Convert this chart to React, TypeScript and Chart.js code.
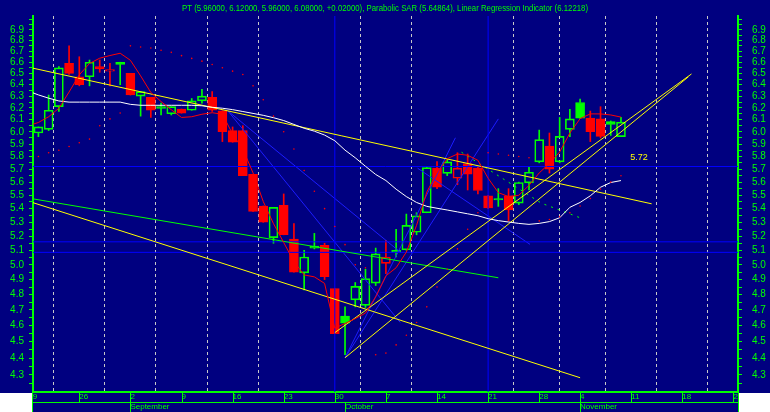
import React, { useEffect, useRef } from "react";
import { Chart, registerables } from "chart.js";

Chart.register(...registerables);

// ---------------- data ----------------
const dayTickValues = [0, 5, 10, 15, 20, 25, 30, 35, 40, 45, 50, 54, 59, 64, 69];
const dayTickLabels = ["19", "26", "2", "9", "16", "23", "30", "7", "14", "21", "28", "4", "11", "18", "25"];
const monthTickValues = [10, 31, 54];
const monthTickLabels = ["September", "October", "November"];

const candleDays = [1, 2, 3, 4, 5, 6, 7, 8, 9, 10, 11, 12, 13, 14, 15, 16, 17, 18, 19, 20, 21, 22, 23, 24, 25, 26, 27, 28, 29, 30, 31, 32, 33, 34, 35, 36, 37, 38, 39, 40, 41, 42, 43, 44, 45, 46, 47, 48, 49, 50, 51, 52, 53, 54, 55, 56, 57, 58];
const opens = [5.99, 6.02, 6.21, 6.59, 6.47, 6.47, 6.56, 6.52, 6.6, 6.5, 6.3, 6.29, 6.21, 6.15, 6.19, 6.18, 6.26, 6.29, 6.175, 6.01, 6.01, 5.66, 5.42, 5.19, 5.425, 5.18, 4.945, 5.13, 5.135, 4.84, 4.66, 4.765, 4.73, 4.876, 5.01, 5.1, 5.104, 5.228, 5.37, 5.708, 5.667, 5.63, 5.745, 5.708, 5.496, 5.475, 5.496, 5.441, 5.594, 5.758, 5.884, 5.758, 6.02, 6.246, 6.114, 6.107, 6.084, 5.96];
const highs = [6.04, 6.31, 6.56, 6.75, 6.65, 6.62, 6.62, 6.59, 6.6, 6.5, 6.34, 6.29, 6.24, 6.21, 6.19, 6.28, 6.36, 6.34, 6.175, 6.04, 6.05, 5.66, 5.42, 5.41, 5.51, 5.29, 5.1, 5.22, 5.15, 4.84, 4.72, 4.88, 4.97, 5.116, 5.17, 5.25, 5.36, 5.37, 5.72, 5.76, 5.78, 5.83, 5.82, 5.72, 5.5, 5.55, 5.55, 5.6, 5.72, 6.014, 5.99, 6.119, 6.187, 6.276, 6.173, 6.21, 6.09, 6.12];
const lows = [5.96, 6.01, 6.17, 6.49, 6.39, 6.39, 6.51, 6.39, 6.4, 6.31, 6.13, 6.12, 6.14, 6.14, 6.155, 6.18, 6.24, 6.17, 5.92, 5.915, 5.65, 5.38, 5.3, 5.15, 5.21, 4.95, 4.83, 5.11, 4.9, 4.55, 4.42, 4.72, 4.716, 4.86, 4.94, 5.054, 5.1, 5.21, 5.37, 5.55, 5.65, 5.58, 5.54, 5.51, 5.4, 5.417, 5.31, 5.43, 5.54, 5.75, 5.67, 5.75, 5.96, 6.11, 5.92, 5.95, 5.97, 5.96];
const closes = [6.04, 6.18, 6.55, 6.5, 6.4, 6.6, 6.54, 6.535, 6.58, 6.31, 6.34, 6.18, 6.195, 6.21, 6.155, 6.26, 6.3, 6.18, 6.0, 5.915, 5.65, 5.38, 5.3, 5.41, 5.21, 4.95, 5.054, 5.115, 4.92, 4.55, 4.615, 4.854, 4.906, 5.075, 5.054, 5.088, 5.278, 5.347, 5.713, 5.561, 5.757, 5.708, 5.662, 5.536, 5.405, 5.465, 5.39, 5.597, 5.676, 5.936, 5.701, 5.962, 6.107, 6.114, 6.0, 5.962, 6.06, 6.08];

const lineDays = [0, 1, 2, 3, 4, 5, 6, 7, 8, 9, 10, 11, 12, 13, 14, 15, 16, 17, 18, 19, 20, 21, 22, 23, 24, 25, 26, 27, 28, 29, 30, 31, 32, 33, 34, 35, 36, 37, 38, 39, 40, 41, 42, 43, 44, 45, 46, 47, 48, 49, 50, 51, 52, 53, 54, 55, 56, 57, 58];
const linRegValues = [6.05, 6.077, 6.125, 6.197, 6.336, 6.487, 6.589, 6.637, 6.661, 6.682, 6.618, 6.478, 6.332, 6.254, 6.184, 6.119, 6.125, 6.146, 6.159, 6.146, 5.982, 5.859, 5.671, 5.453, 5.29, 5.155, 5.022, 4.931, 4.918, 4.874, 4.584, 4.614, 4.644, 4.68, 4.785, 4.925, 4.98, 5.088, 5.278, 5.524, 5.671, 5.783, 5.82, 5.81, 5.77, 5.63, 5.52, 5.49, 5.5, 5.575, 5.671, 5.745, 5.836, 5.99, 6.109, 6.149, 6.149, 6.14, 6.122];
const movingAvgValues = [6.345, 6.311, 6.283, 6.259, 6.249, 6.249, 6.249, 6.249, 6.249, 6.249, 6.23, 6.222, 6.222, 6.222, 6.222, 6.222, 6.222, 6.218, 6.205, 6.197, 6.185, 6.169, 6.153, 6.137, 6.117, 6.093, 6.061, 6.029, 6.005, 5.973, 5.927, 5.851, 5.79, 5.723, 5.659, 5.612, 5.546, 5.49, 5.446, 5.417, 5.403, 5.39, 5.376, 5.362, 5.348, 5.326, 5.312, 5.302, 5.292, 5.285, 5.292, 5.305, 5.333, 5.41, 5.446, 5.496, 5.561, 5.597, 5.612];
const sarValues = [5.8, 5.83, 5.85, 5.88, 5.91, 5.94, 6.05, 6.107, 6.156, 6.75, 6.74, 6.73, 6.71, 6.69, 6.66, 6.635, 6.61, 6.58, 6.55, 6.52, 6.49, 6.39, 6.27, 6.13, 6.0, 5.86, 5.69, 5.53, 5.4, 5.27, 5.14, 5.0, 4.98, 4.42, 4.43, 4.48, 4.54, 4.62, 4.72, 4.85, 4.97, 5.11, 5.25, 5.37, 5.83, 5.82, 5.81, 5.8, 5.79, 5.31, 5.32, 5.34, 5.37, 5.42, 5.476, 5.548, 5.6, 5.649];

// trend lines: [startDay, startValue, endDay, endValue]
const yellowUpperFall = [0, 6.556, 61, 5.436];
const yellowLowerFall = [0, 5.456, 54, 4.283];
const yellowRiseA = [30, 4.556, 64.9, 6.495];
const yellowRiseB = [31, 4.402, 64.6, 6.47];
const greenFall = [0, 5.479, 46, 4.912];
const greenDashDays = [42.4, 46.3, 50.2, 54];
const greenDashValues = [5.834, 5.634, 5.441, 5.333];
const blueFanSteep = [19.55, 6.173, 36.4, 4.62];
const blueFanShallow = [19.55, 6.173, 36.4, 5.088];
const blueRiseSlow = [31, 4.402, 46, 6.107];
const blueRiseFast = [31, 4.402, 41.8, 5.951];
const blueFallLate = [38.1, 5.708, 49.1, 5.142];
const blueLevels = [5.721, 5.16, 5.086];
const blueVerticalDays = [30, 45];
const levelLabel = "5.72";

const titleText = "PT (5.96000, 6.12000, 5.96000, 6.08000, +0.02000), Parabolic SAR (5.64864), Linear Regression Indicator (6.12218)";

const Y_MIN = 4.216;
const Y_MAX = 7.032;
const X_MIN = 0.47;
const X_MAX = 69.45;
const yTickValues: number[] = [];
for (let k = 85; k <= 140; k++) yTickValues.push(k / 20);

// ---------------- styles ----------------
const NAVY = "#000080";
const GREEN = "#00ff00";
const RED = "#ff0000";
const YELLOW = "#ffff00";
const WHITE = "#ffffff";
const BLUE = "#0000ff";
const BLUE_DIAG = "#1c1cff";
const GRID = "#c8c8c8";
const FONT = '"Liberation Sans", Arial, sans-serif';

function candleColor(k: number) {
  if (k === 0) return GREEN;
  return closes[k] >= closes[k - 1] ? GREEN : RED;
}

function seg(p: number[]) {
  return [
    { x: p[0], y: p[1] },
    { x: p[2], y: p[3] },
  ];
}

function lineSet(label: string, data: any[], color: string, order: number, dash: number[] = []) {
  return {
    type: "line",
    label,
    data,
    borderColor: color,
    borderWidth: 1,
    borderDash: dash,
    pointRadius: 0,
    fill: false,
    tension: 0,
    order,
  };
}

const overlayPlugin = {
  id: "overlay",
  beforeDraw(chart: any) {
    const { ctx, width, height } = chart;
    ctx.save();
    ctx.fillStyle = NAVY;
    ctx.fillRect(0, 0, width, height);
    ctx.restore();
  },
  afterDraw(chart: any) {
    const { ctx, chartArea, width, height } = chart;
    const xs = chart.scales.x;
    const ys = chart.scales.y;
    const b = chartArea.bottom;
    ctx.save();
    ctx.strokeStyle = GREEN;
    ctx.lineWidth = 1;
    ctx.beginPath();
    ctx.moveTo(chartArea.left, Math.round(b + 10) + 0.5);
    ctx.lineTo(chartArea.right, Math.round(b + 10) + 0.5);
    dayTickValues.forEach((v) => {
      const px = Math.round(xs.getPixelForValue(v)) + 0.5;
      if (px < chartArea.left || px > chartArea.right) return;
      ctx.moveTo(px, b);
      ctx.lineTo(px, b + 10);
    });
    monthTickValues.forEach((v) => {
      const px = Math.round(xs.getPixelForValue(v)) + 0.5;
      ctx.moveTo(px, b + 10);
      ctx.lineTo(px, height);
    });
    ctx.moveTo(Math.round(chartArea.left) - 0.5, b);
    ctx.lineTo(Math.round(chartArea.left) - 0.5, height);
    ctx.moveTo(Math.round(chartArea.right) + 0.5, b);
    ctx.lineTo(Math.round(chartArea.right) + 0.5, height);
    ctx.stroke();

    ctx.fillStyle = WHITE;
    ctx.fillRect(0, b + 1, chartArea.left - 1, height - b);
    ctx.fillRect(chartArea.right + 1, b + 1, width - chartArea.right, height - b);

    ctx.fillStyle = GREEN;
    ctx.font = "9px " + FONT;
    ctx.textBaseline = "alphabetic";
    ctx.textAlign = "left";
    ctx.fillText(titleText, 182, 10.5, 406);

    ctx.fillStyle = YELLOW;
    ctx.fillText(levelLabel, xs.getPixelForValue(58.9), ys.getPixelForValue(5.721) - 7);
    ctx.restore();
  },
};

function buildConfig(): any {
  const wickHi = candleDays.map((d, k) => ({ x: d, y: [Math.max(opens[k], closes[k]), highs[k]] }));
  const wickLo = candleDays.map((d, k) => ({ x: d, y: [lows[k], Math.min(opens[k], closes[k])] }));
  const bodies = candleDays.map((d, k) => ({ x: d, y: [opens[k], closes[k]] }));
  const colors = candleDays.map((_, k) => candleColor(k));
  const fills = candleDays.map((_, k) => (closes[k] < opens[k] ? candleColor(k) : "rgba(0,0,0,0)"));

  const datasets: any[] = [
    { type: "bar", label: "wickHi", data: wickHi, backgroundColor: colors, borderWidth: 0, barThickness: 1, grouped: false, order: 20 },
    { type: "bar", label: "wickLo", data: wickLo, backgroundColor: colors, borderWidth: 0, barThickness: 1, grouped: false, order: 20 },
    {
      type: "bar",
      label: "body",
      data: bodies,
      backgroundColor: fills,
      borderColor: colors,
      borderWidth: 1,
      borderSkipped: false,
      barThickness: 9,
      grouped: false,
      order: 19,
    },
  ];

  blueLevels.forEach((v, i) => datasets.push(lineSet("level" + i, [{ x: -1, y: v }, { x: 71, y: v }], BLUE, 10)));
  blueVerticalDays.forEach((d, i) => datasets.push(lineSet("vert" + i, [{ x: d, y: 4.0 }, { x: d, y: 7.2 }], BLUE, 10)));
  [blueFanSteep, blueFanShallow, blueRiseSlow, blueRiseFast, blueFallLate].forEach((p, i) =>
    datasets.push(lineSet("diag" + i, seg(p), BLUE_DIAG, 11))
  );

  datasets.push(lineSet("greenFall", seg(greenFall), GREEN, 6));
  datasets.push(lineSet("greenDash", greenDashDays.map((d, k) => ({ x: d, y: greenDashValues[k] })), GREEN, 6, [2, 5]));
  datasets.push(lineSet("yellowUpperFall", seg(yellowUpperFall), YELLOW, 5));
  datasets.push(lineSet("yellowLowerFall", seg(yellowLowerFall), YELLOW, 5));
  datasets.push(lineSet("yellowRiseA", seg(yellowRiseA), YELLOW, 5));
  datasets.push(lineSet("yellowRiseB", seg(yellowRiseB), YELLOW, 5));
  datasets.push(lineSet("ma", lineDays.map((d, k) => ({ x: d, y: movingAvgValues[k] })), WHITE, 4));
  datasets.push(lineSet("lri", lineDays.map((d, k) => ({ x: d, y: linRegValues[k] })), RED, 3));
  datasets.push({
    type: "line",
    label: "sar",
    data: candleDays.map((d, k) => ({ x: d, y: sarValues[k] })),
    showLine: false,
    pointRadius: 0.8,
    pointBackgroundColor: RED,
    pointBorderWidth: 0,
    order: 2,
  });

  const yAxis = (position: string, width: number, padding: number) => ({
    type: "logarithmic",
    position,
    min: Y_MIN,
    max: Y_MAX,
    afterBuildTicks: (s: any) => {
      s.ticks = yTickValues.map((v) => ({ value: v }));
    },
    afterFit: (s: any) => {
      s.width = width;
    },
    ticks: {
      autoSkip: false,
      color: GREEN,
      padding,
      font: { family: FONT, size: 10 },
      callback: (v: number) => {
        const t = Math.round(v * 20);
        if (t % 2 !== 0 || v < 4.29 || v > 6.91) return "";
        return v.toFixed(1);
      },
    },
    grid: { drawOnChartArea: false, drawTicks: true, tickLength: 4, tickColor: GREEN, tickWidth: 1 },
    border: { display: true, color: GREEN, width: 2 },
  });

  return {
    type: "bar",
    data: { datasets },
    options: {
      animation: false,
      responsive: false,
      maintainAspectRatio: false,
      devicePixelRatio: 1,
      events: [],
      layout: { padding: 0 },
      plugins: { legend: { display: false }, tooltip: { enabled: false }, title: { display: false } },
      scales: {
        x: {
          type: "linear",
          position: "bottom",
          weight: 0,
          min: X_MIN,
          max: X_MAX,
          offset: false,
          afterBuildTicks: (s: any) => {
            s.ticks = dayTickValues.map((v) => ({ value: v }));
          },
          afterFit: (s: any) => {
            s.height = 10;
          },
          ticks: {
            autoSkip: false,
            maxRotation: 0,
            minRotation: 0,
            align: "start",
            padding: 0,
            color: GREEN,
            font: { family: FONT, size: 8 },
            callback: (v: number) => {
              const i = dayTickValues.indexOf(v);
              return i >= 0 ? dayTickLabels[i] : "";
            },
          },
          grid: {
            display: true,
            drawOnChartArea: true,
            drawTicks: false,
            lineWidth: 1,
            color: (c: any) => {
              const v = c.tick ? c.tick.value : -1;
              return v === 0 || blueVerticalDays.indexOf(v) >= 0 ? "rgba(0,0,0,0)" : GRID;
            },
          },
          border: { display: true, color: GREEN, width: 2, dash: [3, 3] },
        },
        xm: {
          type: "linear",
          position: "bottom",
          weight: 1,
          min: X_MIN,
          max: X_MAX,
          offset: false,
          afterBuildTicks: (s: any) => {
            s.ticks = monthTickValues.map((v) => ({ value: v }));
          },
          afterFit: (s: any) => {
            s.height = 10;
          },
          ticks: {
            autoSkip: false,
            maxRotation: 0,
            minRotation: 0,
            align: "start",
            padding: 0,
            color: GREEN,
            font: { family: FONT, size: 8 },
            callback: (v: number) => {
              const i = monthTickValues.indexOf(v);
              return i >= 0 ? monthTickLabels[i] : "";
            },
          },
          grid: { display: false, drawTicks: false },
          border: { display: false },
        },
        y: yAxis("left", 33, 5),
        y2: yAxis("right", 32, 10),
      },
    },
    plugins: [overlayPlugin],
  };
}

export default function App() {
  const ref = useRef<HTMLCanvasElement>(null);
  useEffect(() => {
    const chart = new Chart(ref.current as HTMLCanvasElement, buildConfig());
    return () => chart.destroy();
  }, []);
  return (
    <div style={{ position: "fixed", left: 0, top: 0, width: 770, height: 412 }}>
      <canvas ref={ref} width={770} height={412} style={{ display: "block", width: 770, height: 412 }} />
    </div>
  );
}
